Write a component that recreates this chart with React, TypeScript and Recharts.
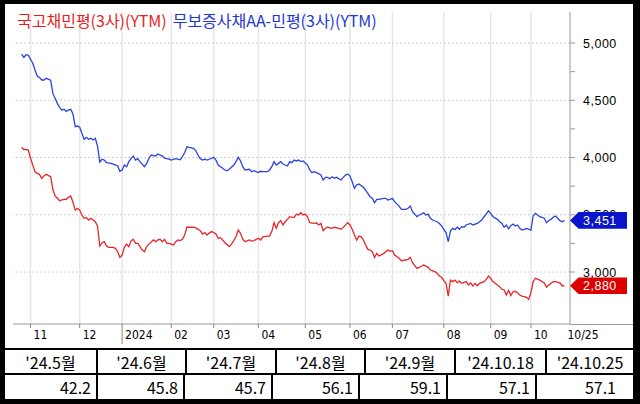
import React from 'react';
import { LineChart, Line, XAxis, YAxis, ReferenceLine } from 'recharts';

// trading-day index (0 = 2023-10-26) and yields x1000
const corpIdx = [0,1,2,3,5,6,7,8,9,10,11,13,14,16,17,18,19,20,21,22,23,24,25,26,27,28,29,30,31,32,33,34,35,36,37,38,40,41,43,44,45,46,47,48,49,50,51,52,53,55,56,57,58,60,61,63,64,66,67,69,71,72,73,74,75,77,78,79,80,81,82,83,84,86,87,88,90,91,92,93,95,96,97,98,99,100,102,103,104,106,107,108,110,111,112,113,114,115,116,117,119,120,121,122,123,124,125,126,128,129,130,131,132,134,135,136,137,138,139,140,141,143,144,145,146,147,148,149,150,151,153,154,155,156,157,158,159,160,162,163,164,165,166,167,169,170,172,173,174,175,177,178,179,180,181,182,183,184,186,187,188,189,190,191,192,193,194,195,196,197,198,199,201,202,204,205,206,207,208,209,210,211,213,214,215,216,217,218,219,220,221,222,223,224,226,228,229,230,231,232,234,235,236,237,238,239,240,241,242,243];
const corpVal = [4904,4875,4898,4893,4823,4764,4712,4700,4677,4677,4692,4675,4560,4473,4438,4415,4421,4403,4415,4421,4380,4269,4275,4264,4211,4159,4176,4159,4168,4153,4168,4100,3960,3985,3978,3955,3949,3943,3926,3880,3891,3934,3920,3964,3993,4013,3978,3990,3964,3920,3949,3993,4022,4013,4031,4013,3995,3985,3978,3990,3980,4007,4042,4094,4089,4080,4058,4020,3990,3978,3985,3978,3985,4002,3978,3934,3906,3891,3885,3897,3934,3964,4002,3972,3920,3891,3897,3876,3885,3868,3880,3876,3876,3891,3920,3964,3934,3949,3964,3943,3926,3964,3955,3978,3970,3978,3964,3970,3934,3891,3868,3876,3868,3847,3804,3827,3827,3815,3832,3818,3827,3804,3827,3847,3856,3838,3789,3731,3760,3768,3740,3716,3687,3658,3644,3605,3635,3635,3644,3644,3629,3635,3644,3615,3576,3548,3548,3557,3576,3527,3483,3498,3506,3518,3498,3506,3469,3454,3439,3425,3402,3373,3345,3265,3360,3382,3370,3391,3373,3396,3391,3411,3425,3411,3425,3439,3454,3483,3506,3535,3512,3483,3460,3439,3425,3391,3411,3378,3405,3419,3402,3411,3382,3367,3380,3365,3490,3512,3498,3483,3470,3431,3450,3460,3478,3489,3470,3449,3439,3451];

const ktbIdx = [0,1,2,3,4,5,6,7,8,9,10,11,13,14,15,16,17,19,20,21,22,23,24,25,26,27,28,29,30,31,32,33,34,35,36,37,38,39,41,42,43,44,45,46,47,48,49,50,51,52,53,54,55,56,57,59,60,61,62,63,64,65,66,67,68,69,70,71,72,73,74,75,77,78,80,81,82,83,84,85,86,87,88,89,90,91,92,93,94,96,97,98,99,100,102,103,104,106,107,108,110,111,112,113,114,115,116,117,118,119,120,122,123,124,125,126,127,128,129,131,132,133,134,135,136,137,139,140,142,143,144,146,147,148,149,150,151,152,153,154,155,156,157,158,159,160,162,163,164,165,166,167,169,170,172,173,174,175,177,178,179,180,181,182,183,185,186,187,188,189,190,191,192,193,194,195,196,197,199,200,201,202,203,204,205,207,208,209,210,211,213,214,215,216,217,218,219,220,221,222,223,224,225,226,227,228,229,230,232,233,234,235,236,237,238,239,241,242,243];
const ktbVal = [4089,4070,4070,4065,3993,3934,3876,3862,3853,3818,3838,3853,3832,3720,3664,3644,3623,3635,3635,3652,3664,3610,3540,3556,3541,3498,3469,3475,3454,3469,3454,3439,3400,3227,3256,3265,3227,3216,3216,3207,3177,3128,3148,3216,3244,3220,3270,3286,3251,3251,3222,3192,3177,3222,3244,3280,3265,3280,3286,3265,3286,3251,3251,3244,3236,3265,3280,3275,3286,3323,3391,3391,3391,3385,3360,3332,3345,3323,3340,3353,3345,3332,3295,3300,3280,3256,3240,3222,3244,3308,3367,3338,3286,3265,3280,3270,3274,3295,3280,3308,3314,3314,3353,3431,3382,3431,3449,3411,3439,3460,3483,3475,3506,3498,3518,3498,3506,3483,3431,3425,3430,3411,3425,3361,3382,3391,3382,3391,3382,3373,3390,3431,3411,3373,3323,3280,3314,3310,3280,3236,3198,3192,3177,3128,3163,3140,3160,3177,3192,3180,3186,3148,3120,3099,3105,3111,3128,3082,3032,3041,3050,3061,3052,3041,3017,3003,2989,2965,2954,2924,2901,2790,2930,2916,2930,2907,2920,2901,2916,2886,2905,2878,2901,2880,2901,2916,2936,2965,2945,2916,2886,2872,2849,2843,2799,2840,2795,2828,2832,2819,2799,2790,2785,2779,2761,2820,2915,2945,2930,2916,2905,2868,2886,2901,2916,2916,2905,2878,2880];

const seriesNames = ['국고채민평(3사)(YTM)', '무보증사채AA-민평(3사)(YTM)'];
const seriesColors = ['#e8262a', '#2a44dc'];
const legendColors = ['#e41e1e', '#1e36d0'];
const tagColors = ['#dc0000', '#0a14c8'];

const monthTickIdx = [4, 26, 45, 67, 86, 106, 127, 147, 166, 189, 210, 228, 243];
const monthTickLabels = ['11', '12', '2024', '02', '03', '04', '05', '06', '07', '08', '09', '10', '10/25'];
const gridMonthIdx = monthTickIdx.slice(0, 12);

const yTicks = [3000, 3250, 3500, 3750, 4000, 4250, 4500, 4750, 5000];
const yGridValues = [3000, 3500, 4000, 4500, 5000];

const tableHeaders = ["'24.5월", "'24.6월", "'24.7월", "'24.8월", "'24.9월", "'24.10.18", "'24.10.25"];
const tableValues = [42.2, 45.8, 45.7, 56.1, 59.1, 57.1, 57.1];
const colWidths = [91, 87, 88, 87, 88, 89, 86];

const ktbData = ktbIdx.map((d, i) => ({ idx: d, v: ktbVal[i] }));
const corpData = corpIdx.map((d, i) => ({ idx: d, v: corpVal[i] }));

const axisFont = "'Liberation Sans Narrow', 'Arial Narrow', 'DejaVu Sans Condensed', sans-serif";
const cjkFont = "'Noto Sans CJK KR', 'Noto Sans', sans-serif";
const numFont = "'Liberation Sans', Arial, sans-serif";

const fmt = (v: number) => v.toLocaleString('en-US');

const XTick = (props: any) => {
  const { x, y, payload } = props;
  const i = monthTickIdx.indexOf(payload.value);
  const label = monthTickLabels[i];
  const isLast = i === monthTickIdx.length - 1;
  const isYear = label === '2024';
  return (
    <g>
      {!isLast && (
        <line x1={x} y1={y} x2={x} y2={y + (isYear ? 20 : 4)} stroke="#8a8a8a" strokeWidth={1} />
      )}
      <text x={x + 3} y={y + 15} fontSize={12} fontFamily={axisFont} fill="#000">
        {label}
      </text>
    </g>
  );
};

const YTick = (props: any) => {
  const { x, y, payload } = props;
  if (payload.value % 500 !== 0) return <g />;
  return (
    <text x={x + 8} y={y + 4.5} fontSize={12.5} letterSpacing={0.5} fontFamily={numFont} fill="#000">
      {fmt(payload.value)}
    </text>
  );
};

const makeTag = (value: number, color: string) => (props: any) => {
  const vb = props.viewBox || {};
  const tip = vb.x + vb.width;
  const y = vb.y;
  const h = 8.3;
  const pts = `${tip},${y} ${tip + 8.5},${y - h} ${tip + 57},${y - h} ${tip + 57},${y + h} ${tip + 8.5},${y + h}`;
  return (
    <g>
      <polygon points={pts} fill={color} />
      <text x={tip + 13} y={y + 4.5} fontSize={12.5} letterSpacing={0.5} fontFamily={numFont} fill="#fff">
        {fmt(value)}
      </text>
    </g>
  );
};

export default function App() {
  const ktbLast = ktbVal[ktbVal.length - 1];
  const corpLast = corpVal[corpVal.length - 1];
  return (
    <div style={{ position: 'absolute', left: 0, top: 0, width: 640, height: 404, background: '#000', overflow: 'hidden' }}>
      <div style={{ position: 'absolute', left: 5, top: 4, width: 628, height: 395, background: '#fff' }} />
      <div style={{ position: 'absolute', left: 570, top: 324, width: 63, height: 1, background: '#999' }} />
      <LineChart
        width={640}
        height={348}
        margin={{ top: 12, right: 0, bottom: 0, left: 13 }}
        style={{ position: 'absolute', left: 0, top: 0 }}
      >
        <XAxis
          dataKey="idx"
          type="number"
          domain={[-3.85, 245.5]}
          allowDataOverflow
          ticks={monthTickIdx}
          interval={0}
          height={24}
          axisLine={{ stroke: '#999' }}
          tickLine={false}
          tickSize={0}
          tickMargin={0}
          tick={<XTick />}
        />
        <YAxis
          orientation="right"
          type="number"
          domain={[2546, 5271]}
          allowDataOverflow
          ticks={yTicks}
          interval={0}
          width={70}
          axisLine={{ stroke: '#999' }}
          tickLine={{ stroke: '#999' }}
          tickSize={5}
          tickMargin={0}
          tick={<YTick />}
        />
        {gridMonthIdx.map((m) => (
          <ReferenceLine key={'vx' + m} x={m} stroke="#e6e6e6" strokeWidth={1.5} />
        ))}
        {yGridValues.map((v) => (
          <ReferenceLine key={'hy' + v} y={v} stroke="#cfcfcf" strokeDasharray="2 2" />
        ))}
        <Line data={ktbData} dataKey="v" name={seriesNames[0]} stroke={seriesColors[0]} strokeWidth={1.3} dot={false} isAnimationActive={false} />
        <Line data={corpData} dataKey="v" name={seriesNames[1]} stroke={seriesColors[1]} strokeWidth={1.3} dot={false} isAnimationActive={false} />
        <ReferenceLine {...({ zIndex: 2000 } as any)} y={corpLast} stroke="none" label={makeTag(corpLast, tagColors[1])} />
        <ReferenceLine {...({ zIndex: 2000 } as any)} y={ktbLast} stroke="none" label={makeTag(ktbLast, tagColors[0])} />
      </LineChart>
      <div style={{ position: 'absolute', left: 17, top: 11, fontFamily: cjkFont, fontSize: 16, lineHeight: '18px', whiteSpace: 'nowrap' }}>
        <span style={{ color: legendColors[0] }}>{seriesNames[0]}</span>
        <span style={{ color: legendColors[1], marginLeft: 6 }}>{seriesNames[1]}</span>
      </div>
      <div style={{ position: 'absolute', left: 5, top: 348, width: 628, borderTop: '2px solid #000' }}>
        <div style={{ display: 'flex', height: 23, borderBottom: '2px solid #000' }}>
          {tableHeaders.map((h, i) => (
            <div
              key={h}
              style={{
                width: colWidths[i],
                borderLeft: i > 0 ? '2px solid #000' : 'none',
                display: 'flex',
                alignItems: 'center',
                justifyContent: 'center',
                fontFamily: cjkFont,
                fontSize: 16,
                lineHeight: 1,
                color: '#000',
              }}
            >
              {h}
            </div>
          ))}
        </div>
        <div style={{ display: 'flex', height: 24 }}>
          {tableValues.map((v, i) => (
            <div
              key={i}
              style={{
                width: colWidths[i],
                borderLeft: i > 0 ? '2px solid #000' : 'none',
                display: 'flex',
                alignItems: 'center',
                justifyContent: 'flex-end',
                paddingRight: 5,
                boxSizing: 'border-box',
                fontFamily: cjkFont,
                fontSize: 16,
                lineHeight: 1,
                color: '#000',
              }}
            >
              {v.toFixed(1)}
            </div>
          ))}
        </div>
      </div>
    </div>
  );
}
